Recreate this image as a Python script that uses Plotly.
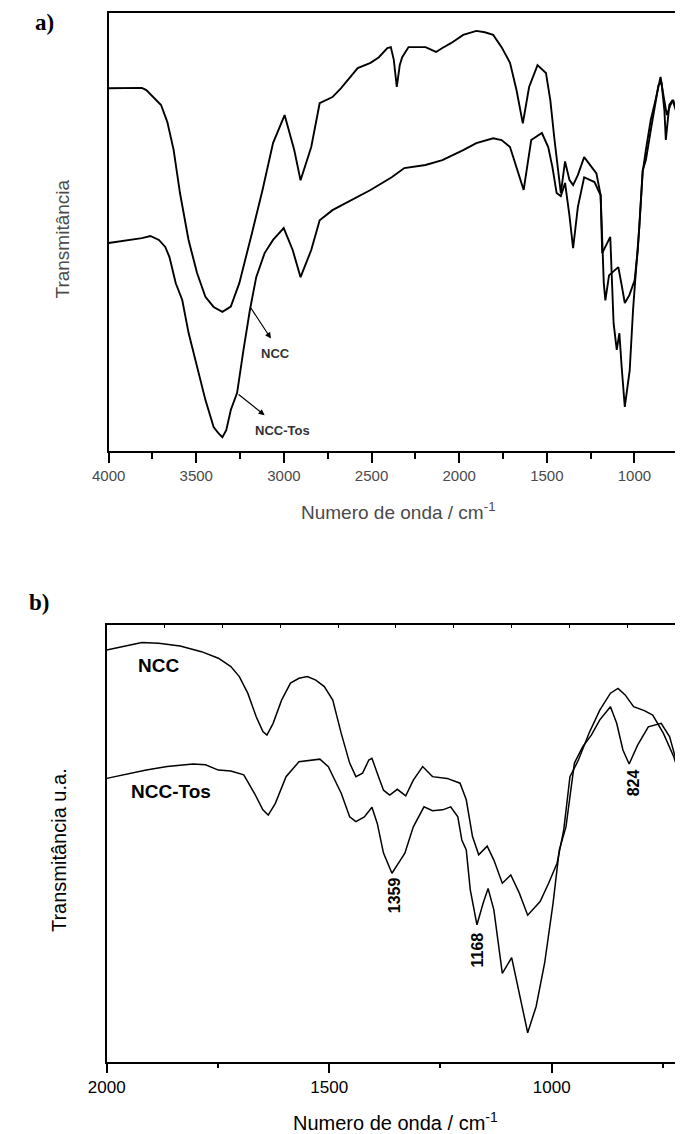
import plotly.graph_objects as go

# ---------------- Panel a) data (wavenumber cm-1, transmittance a.u.) ----------------
a_wn_ncc = [4000, 3810, 3785, 3737, 3701, 3665, 3629, 3593, 3544, 3496, 3448, 3401, 3351, 3303, 3254,
            3182, 3122, 3062, 2996, 2941, 2905, 2844, 2796, 2723, 2675, 2579, 2506, 2458, 2410, 2390,
            2373, 2356, 2339, 2325, 2289, 2192, 2132, 2096, 2047, 1977, 1902, 1854, 1806, 1758, 1710,
            1673, 1637, 1601, 1553, 1505, 1480, 1456, 1434, 1420, 1396, 1371, 1350, 1323, 1287, 1251,
            1217, 1193, 1175, 1166, 1145, 1123, 1092, 1073, 1055, 1029, 999, 981, 972, 963, 953,
            935, 907, 880, 851, 835, 815, 795, 779, 752, 724]
a_ncc = [82.7, 82.8, 82.3, 80.3, 78.9, 75.0, 68.6, 58.8, 48.1, 40.6, 35.1, 32.8, 31.7, 32.9, 38.3,
         49.7, 59.5, 70.2, 76.6, 68.6, 61.7, 69.3, 79.3, 80.7, 82.7, 87.3, 88.5, 89.8, 91.9, 92.1,
         89.2, 83.0, 88.0, 89.8, 92.1, 92.1, 91.0, 91.9, 93.0, 94.9, 95.8, 95.5, 94.9, 92.1, 88.5,
         82.3, 74.7, 83.0, 88.0, 86.2, 80.0, 70.9, 62.9, 58.8, 66.0, 61.8, 60.6, 62.9, 67.0, 65.2,
         63.3, 58.3, 38.3, 34.3, 40.0, 40.8, 41.9, 37.8, 33.7, 35.5, 38.9, 45.7, 51.1, 57.9, 63.6,
         68.6, 75.5, 80.0, 85.3, 81.2, 76.6, 78.9, 80.0, 76.6, 70.9]

a_wn_tos = [4000, 3810, 3762, 3713, 3677, 3653, 3617, 3580, 3544, 3496, 3448, 3401, 3374, 3351, 3329,
            3303, 3267, 3231, 3194, 3158, 3110, 3062, 3001, 2950, 2905, 2844, 2796, 2723, 2579, 2506,
            2385, 2313, 2192, 2096, 1977, 1902, 1806, 1758, 1710, 1673, 1632, 1589, 1528, 1492, 1468,
            1444, 1420, 1396, 1371, 1350, 1323, 1287, 1228, 1193, 1184, 1138, 1119, 1101, 1086, 1073,
            1055, 1027, 1008, 990, 972, 953, 935, 907, 880, 863, 846, 829, 821, 801, 782,
            763, 743, 724]
a_tos = [47.4, 48.5, 49.0, 48.1, 46.5, 44.2, 38.2, 34.4, 26.9, 19.1, 11.6, 5.4, 4.0, 3.1, 4.7,
         9.3, 13.2, 22.9, 32.1, 39.6, 45.1, 48.1, 50.8, 45.8, 39.6, 45.8, 52.6, 54.9, 57.9, 59.5,
         62.4, 64.5, 65.2, 66.3, 68.6, 70.2, 71.3, 70.9, 69.3, 64.7, 59.5, 70.9, 72.5, 69.3, 64.7,
         58.8, 58.1, 61.1, 53.7, 46.2, 55.6, 62.4, 61.3, 58.3, 45.1, 48.8, 29.1, 23.0, 26.8, 19.1,
         10.0, 18.4, 32.1, 41.9, 51.1, 64.0, 66.3, 73.1, 78.9, 83.4, 84.1, 77.6, 70.9, 78.9, 80.0,
         77.6, 72.0, 66.3]

# ---------------- Panel b) data ----------------
b_wn_ncc = [2000, 1959, 1921, 1883, 1835, 1787, 1749, 1721, 1702, 1683, 1664, 1649, 1640, 1626, 1607,
            1587, 1568, 1549, 1530, 1511, 1492, 1473, 1454, 1440, 1425, 1411, 1404, 1392, 1378, 1364,
            1347, 1328, 1311, 1290, 1268, 1235, 1206, 1192, 1178, 1164, 1145, 1130, 1111, 1092, 1073,
            1054, 1026, 1007, 988, 973, 959, 940, 916, 892, 868, 851, 835, 816, 792, 773,
            749, 726, 704]
b_ncc = [94.3, 95.2, 96.0, 95.8, 95.2, 93.9, 92.4, 90.5, 88.2, 84.4, 79.0, 75.6, 74.8, 77.5, 82.8,
         86.7, 87.8, 88.2, 87.4, 85.9, 82.8, 75.2, 68.4, 65.3, 66.1, 69.1, 69.5, 66.1, 62.2, 61.1,
         62.4, 60.9, 64.5, 67.6, 65.3, 64.9, 63.8, 60.0, 51.6, 47.4, 49.4, 46.2, 40.9, 42.8, 38.7,
         33.6, 36.7, 40.9, 45.5, 53.1, 65.3, 69.1, 75.3, 80.5, 84.4, 85.5, 84.0, 81.3, 80.4, 79.4,
         75.2, 69.9, 63.0]

b_wn_tos = [2000, 1959, 1911, 1864, 1806, 1778, 1749, 1721, 1692, 1668, 1649, 1637, 1621, 1597, 1568,
            1521, 1502, 1473, 1454, 1440, 1421, 1404, 1392, 1378, 1359, 1340, 1330, 1311, 1287, 1268,
            1245, 1227, 1211, 1202, 1192, 1183, 1168, 1154, 1143, 1130, 1111, 1090, 1073, 1054, 1035,
            1016, 997, 983, 968, 949, 930, 911, 892, 868, 854, 840, 826, 807, 783, 754,
            735, 716, 704]
b_tos = [64.9, 65.8, 66.8, 67.6, 68.2, 68.0, 66.8, 66.6, 65.7, 61.5, 57.7, 56.5, 59.2, 65.3, 68.7,
         69.3, 67.6, 61.5, 56.1, 55.0, 56.1, 58.3, 54.6, 47.8, 43.2, 46.2, 47.8, 53.8, 58.4, 57.5,
         57.7, 58.4, 56.1, 50.8, 48.5, 39.4, 31.4, 36.4, 39.7, 34.8, 20.3, 23.9, 15.7, 6.7, 12.7,
         22.6, 36.3, 48.5, 53.8, 68.4, 72.2, 74.8, 78.3, 81.3, 77.5, 71.4, 68.2, 72.5, 76.7, 77.5,
         74.4, 67.6, 63.0]

# Peak labels (panel b)
peak_labels = ["1359", "1168", "824"]
peak_wn = [1354, 1167, 817]
peak_y = [38.2, 25.6, 63.8]

FONT = "Liberation Sans, Arial, sans-serif"
SERIF = "Liberation Serif, Times New Roman, serif"
GREY = "#4a4a4a"

# page body has an 8px default margin: the figure is sized to fill the rest of the window
OFF = 8.0
W = 683.0 - OFF
H = 1134.0 - OFF


def px(xp):
    return (xp - OFF) / W


def py(yp):
    return 1 - (yp - OFF) / H


fig = go.Figure()
line_a = dict(color="black", width=1.9)
line_b = dict(color="black", width=1.5)
fig.add_trace(go.Scatter(x=a_wn_ncc, y=a_ncc, mode="lines", line=line_a, xaxis="x", yaxis="y", showlegend=False))
fig.add_trace(go.Scatter(x=a_wn_tos, y=a_tos, mode="lines", line=line_a, xaxis="x", yaxis="y", showlegend=False))
fig.add_trace(go.Scatter(x=b_wn_ncc, y=b_ncc, mode="lines", line=line_b, xaxis="x2", yaxis="y2", showlegend=False))
fig.add_trace(go.Scatter(x=b_wn_tos, y=b_tos, mode="lines", line=line_b, xaxis="x2", yaxis="y2", showlegend=False))
# invisible helper trace so the top tick axis of panel b is rendered
fig.add_trace(go.Scatter(x=b_wn_ncc, y=b_ncc, mode="lines", line=dict(width=0), opacity=0,
                         xaxis="x3", yaxis="y2", showlegend=False, hoverinfo="skip"))

fig.update_layout(
    width=int(W), height=int(H),
    margin=dict(l=0, r=0, t=0, b=0),
    paper_bgcolor="white", plot_bgcolor="white",
    xaxis=dict(domain=[px(92), 1], range=[4000, 723], anchor="y",
               tick0=4000, dtick=500, ticks="outside", ticklen=11, tickwidth=1.5, tickcolor="black",
               showline=True, linecolor="black", linewidth=1.5, mirror=True,
               showgrid=False, zeroline=False,
               tickfont=dict(family=FONT, size=15, color=GREY),
               minor=dict(dtick=250, tick0=4000, ticks="outside", ticklen=7, tickwidth=1.5,
                          tickcolor="black", showgrid=False)),
    yaxis=dict(domain=[py(450.7), py(12.5)], range=[0, 100], anchor="x",
               showline=True, linecolor="black", linewidth=1.5,
               showticklabels=False, ticks="", showgrid=False, zeroline=False),
    xaxis2=dict(domain=[px(90), 1], range=[2000, 705], anchor="y2",
                tick0=2000, dtick=500, ticks="outside", ticklen=9, tickwidth=2, tickcolor="black",
                showline=True, linecolor="black", linewidth=2, mirror=True,
                showgrid=False, zeroline=False,
                tickfont=dict(family=FONT, size=17, color="black"),
                minor=dict(dtick=250, tick0=2000, ticks="outside", ticklen=4, tickwidth=2,
                           tickcolor="black", showgrid=False)),
    xaxis3=dict(overlaying="x2", anchor="y2", side="top", range=[2000, 705],
                tick0=2000, dtick=130, ticks="inside", ticklen=3, tickwidth=1, tickcolor="black",
                showticklabels=False, showline=False, showgrid=False, zeroline=False),
    yaxis2=dict(domain=[py(1062), py(625)], range=[0, 100], anchor="x2",
                showline=True, linecolor="black", linewidth=2,
                showticklabels=False, ticks="", showgrid=False, zeroline=False),
)

ann = []


def paper_text(text, xp, yp, size, color="black", family=FONT, angle=0):
    return dict(text=text, x=px(xp), y=py(yp), xref="paper", yref="paper",
                xanchor="center", yanchor="middle", textangle=angle,
                showarrow=False, font=dict(family=family, size=size, color=color))


# panel letters
ann.append(paper_text("<b>a)</b>", 26, 23, 23, family=SERIF))
ann.append(paper_text("<b>b)</b>", 20, 602, 23, family=SERIF))
# panel a axis titles
ann.append(paper_text("Transmitância", 43.5, 239, 19, color=GREY, angle=-90))
ann.append(paper_text("Numero de onda / cm<sup>-1</sup>", 390, 511, 19, color=GREY))
# panel b axis titles
ann.append(paper_text("Transmitância u.a.", 41, 850, 20, angle=-90))
ann.append(paper_text("Numero de onda / cm<sup>-1</sup>", 387, 1121, 20))

# panel a labels and arrows
ann.append(dict(text="<b>NCC</b>", x=3049, y=22.1, xref="x", yref="y", showarrow=False,
                xanchor="center", yanchor="middle", font=dict(family=FONT, size=13, color="#333")))
ann.append(dict(text="<b>NCC-Tos</b>", x=3008, y=4.7, xref="x", yref="y", showarrow=False,
                xanchor="center", yanchor="middle", font=dict(family=FONT, size=13, color="#333")))
ann.append(dict(text="", x=3074, y=25.6, ax=3194, ay=32.9, xref="x", yref="y", axref="x", ayref="y",
                showarrow=True, arrowhead=2, arrowsize=1, arrowwidth=1.2, arrowcolor="black"))
ann.append(dict(text="", x=3110, y=8.1, ax=3267, ay=13.1, xref="x", yref="y", axref="x", ayref="y",
                showarrow=True, arrowhead=2, arrowsize=1, arrowwidth=1.2, arrowcolor="black"))

# panel b labels
ann.append(dict(text="<b>NCC</b>", x=1883, y=90.8, xref="x2", yref="y2", showarrow=False,
                xanchor="center", yanchor="middle", font=dict(family=FONT, size=19, color="black")))
ann.append(dict(text="<b>NCC-Tos</b>", x=1855, y=61.9, xref="x2", yref="y2", showarrow=False,
                xanchor="center", yanchor="middle", font=dict(family=FONT, size=19, color="black")))
for t, xv, yv in zip(peak_labels, peak_wn, peak_y):
    ann.append(dict(text="<b>" + t + "</b>", x=xv, y=yv, xref="x2", yref="y2", showarrow=False,
                    xanchor="center", yanchor="middle", textangle=-90,
                    font=dict(family=FONT, size=16, color="black")))

fig.update_layout(annotations=ann)
fig.write_html("out.html")
